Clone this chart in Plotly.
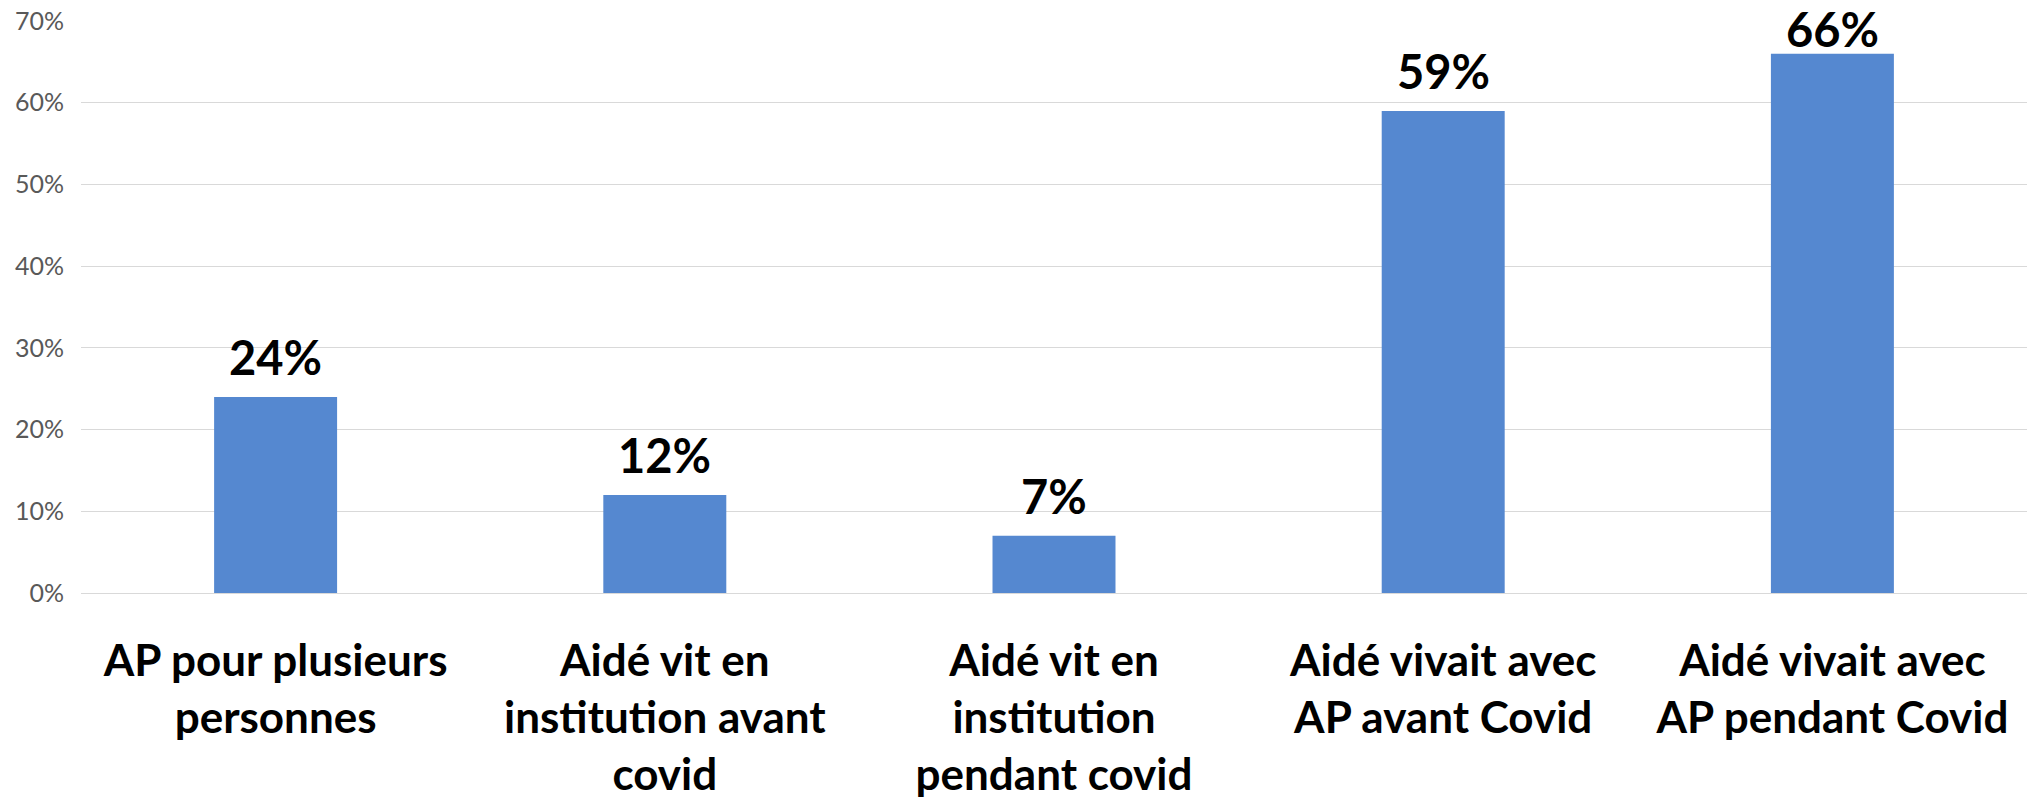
import plotly.graph_objects as go

categories = [
    "AP pour plusieurs<br>personnes",
    "Aidé vit en<br>institution avant<br>covid",
    "Aidé vit en<br>institution<br>pendant covid",
    "Aidé vivait avec<br>AP avant Covid",
    "Aidé vivait avec<br>AP pendant Covid",
]
values = [0.24, 0.12, 0.07, 0.59, 0.66]
labels = ["24%", "12%", "7%", "59%", "66%"]
y_ticks = [0, 0.1, 0.2, 0.3, 0.4, 0.5, 0.6, 0.7]
y_tick_text = ["0%", "10%", "20%", "30%", "40%", "50%", "60%", "70%"]

BAR_COLOR = "#5588d0"
FONT = "Lato"

W, H = 2027, 804
M_L, M_R, M_T, M_B = 81, 0, 21, 211
Y_MAX = 0.7
plot_h = H - M_T - M_B
px_per_unit = plot_h / Y_MAX

fig = go.Figure()
fig.add_trace(go.Bar(
    x=categories,
    y=values,
    marker=dict(color=BAR_COLOR, line=dict(width=0)),
    hoverinfo="skip",
))

BASE_SHIFT = 10
LABEL_OFFSET = 39   # label centre above bar top (px)
MIN_CENTER = 30     # keep label inside the figure (px from top)
for c, v, t in zip(categories, values, labels):
    bar_top = M_T + (Y_MAX - v) * px_per_unit
    push = max(0, MIN_CENTER - (bar_top - LABEL_OFFSET))
    fig.add_annotation(
        x=c, y=v, text=t, showarrow=False,
        yanchor="bottom", yshift=BASE_SHIFT - push,
        font=dict(family=FONT, size=47, color="#000000", weight="bold"),
    )

fig.update_layout(
    width=W, height=H,
    margin=dict(l=M_L, r=M_R, t=M_T, b=M_B),
    paper_bgcolor="white", plot_bgcolor="white",
    bargap=0.684,
    showlegend=False,
    xaxis=dict(
        showgrid=False, showline=False, zeroline=False, ticks="",
        automargin=False,
        tickfont=dict(family=FONT, size=44, color="#000000", weight="bold"),
        ticklabelstandoff=38,
    ),
    yaxis=dict(
        range=[0, Y_MAX], automargin=False,
        tickvals=y_ticks, ticktext=y_tick_text,
        showgrid=True, gridcolor="#d9d9d9", gridwidth=1,
        zeroline=True, zerolinecolor="#d9d9d9", zerolinewidth=1,
        showline=False, ticks="",
        tickfont=dict(family=FONT, size=25, color="#595959"),
        ticklabelstandoff=16,
    ),
)

fig.write_html(
    "out.html",
    config={"displayModeBar": False},
    post_script="document.body.style.margin='0';document.body.style.overflow='hidden';",
)
